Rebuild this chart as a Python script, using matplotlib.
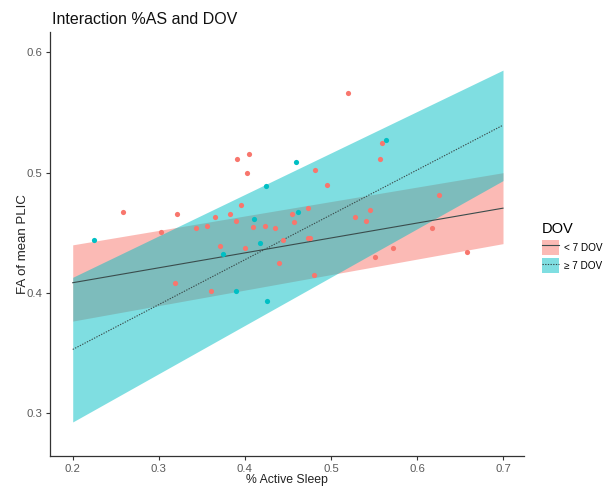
import matplotlib
matplotlib.use("Agg")
import matplotlib.pyplot as plt
from matplotlib.patches import Patch
from matplotlib.lines import Line2D

plt.rcParams["font.family"] = ["Liberation Sans", "DejaVu Sans"]

# ---- data ----
groups = ["< 7 DOV", "\u2265 7 DOV"]
colors = ["#F8766D", "#00BFC4"]

# fitted lines / confidence bands at the ends of the x range
fit_x = [0.2, 0.7]
fit_lt7 = [0.4085, 0.4705]
lo_lt7 = [0.3766, 0.441]
hi_lt7 = [0.440, 0.500]
fit_ge7 = [0.3530, 0.5395]
lo_ge7 = [0.2927, 0.4934]
hi_ge7 = [0.413, 0.5853]

# observed points
x_lt7 = [0.2584, 0.3208, 0.3031, 0.3905, 0.4051, 0.4024, 0.4818, 0.4954, 0.3951, 0.3656,
         0.3830, 0.3900, 0.3436, 0.3566, 0.4094, 0.4236, 0.4353, 0.4547, 0.4735, 0.4570,
         0.3714, 0.4001, 0.4440, 0.4729, 0.4753, 0.4396, 0.5197, 0.5592, 0.5569, 0.5282,
         0.5453, 0.5410, 0.6258, 0.6170, 0.5511, 0.5720, 0.6576, 0.3192, 0.3606, 0.4803]
y_lt7 = [0.4677, 0.4658, 0.4509, 0.5110, 0.5159, 0.4996, 0.5025, 0.4896, 0.4733, 0.4635,
         0.4656, 0.4602, 0.4538, 0.4557, 0.4551, 0.4558, 0.4536, 0.4655, 0.4703, 0.4592,
         0.4391, 0.4376, 0.4438, 0.4461, 0.4461, 0.4252, 0.5665, 0.5249, 0.5116, 0.4633,
         0.4691, 0.4600, 0.4812, 0.4536, 0.4302, 0.4373, 0.4340, 0.4086, 0.4012, 0.4149]
x_ge7 = [0.2247, 0.4590, 0.4251, 0.4102, 0.4619, 0.4172, 0.3746, 0.5635, 0.3893, 0.4253]
y_ge7 = [0.4443, 0.5089, 0.4890, 0.4616, 0.4677, 0.4416, 0.4322, 0.5271, 0.4020, 0.3934]

x_ticks = [0.2, 0.3, 0.4, 0.5, 0.6, 0.7]
y_ticks = [0.3, 0.4, 0.5, 0.6]

# ---- figure ----
fig = plt.figure(figsize=(6.09, 4.88), dpi=100)
ax = fig.add_axes([50 / 609, 1 - 456 / 488, 474 / 609, 424 / 488])

ax.fill_between(fit_x, lo_lt7, hi_lt7, color=colors[0], alpha=0.5, linewidth=0, zorder=1)
ax.fill_between(fit_x, lo_ge7, hi_ge7, color=colors[1], alpha=0.5, linewidth=0, zorder=1)

line_col = "#3a4c4c"
ax.plot(fit_x, fit_lt7, color=line_col, lw=0.8, ls="-", zorder=2)
ax.plot(fit_x, fit_ge7, color=line_col, lw=0.8, ls=(0, (1.2, 1.2)), zorder=2)

ax.scatter(x_lt7, y_lt7, s=14, color=colors[0], linewidths=0, zorder=3)
ax.scatter(x_ge7, y_ge7, s=14, color=colors[1], linewidths=0, zorder=3)

ax.set_xlim(0.1736, 0.7244)
ax.set_ylim(0.2644, 0.617)
ax.set_xticks(x_ticks)
ax.set_xticklabels([f"{v:.1f}" for v in x_ticks])
ax.set_yticks(y_ticks)
ax.set_yticklabels([f"{v:.1f}" for v in y_ticks])

for side in ["top", "right"]:
    ax.spines[side].set_visible(False)
for side in ["left", "bottom"]:
    ax.spines[side].set_color("#333333")
    ax.spines[side].set_linewidth(0.9)
ax.tick_params(axis="both", colors="#333333", length=3, width=0.8,
               labelsize=8.2, labelcolor="#5a5a5a", pad=2.5)

ax.set_xlabel("% Active Sleep", fontsize=8.8, color="#222222")
ax.xaxis.set_label_coords(0.5, -(474.5 - 456) / 424)
ax.set_ylabel("FA of mean PLIC", fontsize=9.5, color="#222222")
ax.yaxis.set_label_coords(-(50 - 29) / 474, 0.5)
fig.text(52 / 609, 1 - 19 / 488, "Interaction %AS and DOV", fontsize=11.5,
         color="#111111", ha="left", va="center")

handles = [
    (Patch(facecolor=colors[0], alpha=0.5, edgecolor="none"),
     Line2D([], [], color=line_col, lw=0.8, ls="-")),
    (Patch(facecolor=colors[1], alpha=0.5, edgecolor="none"),
     Line2D([], [], color=line_col, lw=0.8, ls=(0, (1.2, 1.2)))),
]
leg = fig.legend(handles, groups, title="DOV", loc="upper left",
                 bbox_to_anchor=(538 / 609, 1 - 218 / 488), frameon=False,
                 fontsize=7.2, title_fontsize=10.5, handlelength=1.7, handleheight=1.9,
                 handletextpad=0.5, labelspacing=0.35, borderaxespad=0)
leg._legend_box.align = "left"
leg._legend_box.sep = 3

fig.savefig("out.png", dpi=100)
